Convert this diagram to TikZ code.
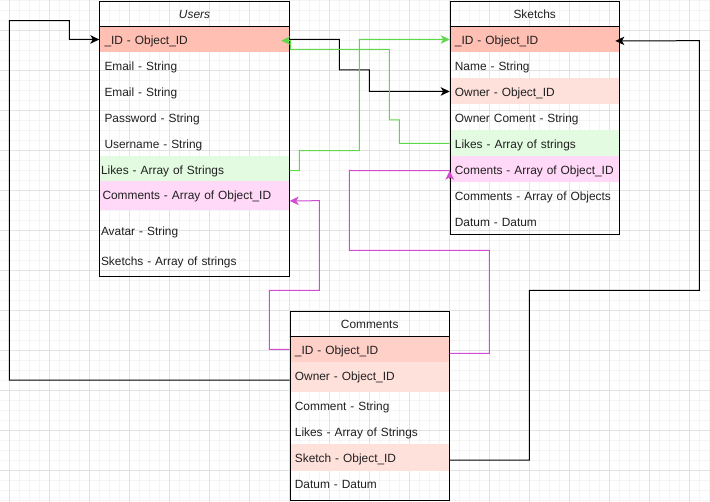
\documentclass[tikz,border=0pt]{standalone}
\usepackage{fontspec}
\setmainfont{Liberation Sans}
\usetikzlibrary{arrows.meta}
\definecolor{idc}{HTML}{FFBFB3}
\definecolor{idcb}{HTML}{FFD0C8}
\definecolor{ownc}{HTML}{FFE1DC}
\definecolor{likec}{HTML}{E3FCE1}
\definecolor{comc}{HTML}{FFD9F7}
\definecolor{gmaj}{HTML}{E2E2E2}
\definecolor{gmin}{HTML}{F4F4F4}
\definecolor{txt}{HTML}{202020}
\definecolor{grn}{HTML}{5FD94A}
\definecolor{mag}{HTML}{D24CD2}
\begin{document}
\begin{tikzpicture}[x=1pt,y=-1pt,
  every node/.style={font=\fontsize{11.9}{14}\selectfont, text=txt},
  row/.style={anchor=north west, rectangle, inner ysep=0pt, align=left, text height=11pt, text depth=1.4pt},
  hdr/.style={anchor=north west, rectangle, inner sep=0pt, align=center, text height=10.5pt, text depth=1.5pt},
  tbox/.style={anchor=north west, rectangle, draw=black, line width=1pt, inner sep=0pt},
  conn/.style={line width=1pt},
  arr/.style={-{Stealth[length=9pt,width=8.5pt,inset=2.5pt]}},
]
\useasboundingbox (0,0) rectangle (710,502);
\fill[white] (0,0) rectangle (710,502);
% grid
\begin{scope}[line width=1pt]
\foreach \i in {0,...,71} { \draw[gmin] ({-0.7+10*\i},0) -- ({-0.7+10*\i},502); }
\foreach \i in {0,...,50} { \draw[gmin] (0,{0.7+10*\i}) -- (710,{0.7+10*\i}); }
\foreach \i in {0,...,17} { \draw[gmaj] ({9.3+40*\i},0) -- ({9.3+40*\i},502); }
\foreach \i in {0,...,12} { \draw[gmaj] (0,{-9.3+40*\i}) -- (710,{-9.3+40*\i}); }
\end{scope}

% ---------- Users ----------
\node[hdr, minimum width=190pt, minimum height=25.6pt] (usersH) at (99.3,0.7) {\itshape Users};
\node[row, fill=idc, text width=180pt, inner xsep=5pt, minimum height=26pt] (uid) at (99.3,26.3) {\mbox{\_ID - Object\_ID}};
\node[row, text width=180pt, inner xsep=5pt, minimum height=26pt] (uem1) at (99.3,52.3) {\mbox{Email - String}};
\node[row, text width=180pt, inner xsep=5pt, minimum height=26pt] (uem2) at (99.3,78.3) {\mbox{Email - String}};
\node[row, text width=180pt, inner xsep=5pt, minimum height=26pt] (upw) at (99.3,104.3) {\mbox{Password - String}};
\node[row, text width=180pt, inner xsep=5pt, minimum height=26pt] (uun) at (99.3,130.3) {\mbox{Username - String}};
\node[row, fill=likec, text width=187pt, inner xsep=1.5pt, minimum height=24.5pt, text height=13.5pt] (ulk) at (99.3,156.3) {\mbox{Likes - Array of Strings}};
\node[row, fill=comc, text width=184pt, inner xsep=3pt, minimum height=29.2pt, text height=9pt, text depth=1.8pt] (ucm) at (99.3,180.8) {\mbox{Comments - Array of Object\_ID}};
\node[row, text width=187pt, inner xsep=1.5pt, minimum height=27.4pt] (uav) at (99.3,217) {\mbox{Avatar - String}};
\node[row, text width=187pt, inner xsep=1.5pt, minimum height=27.4pt] (usk) at (99.3,247) {\mbox{Sketchs - Array of strings}};
\node[tbox, minimum width=190pt, minimum height=275.6pt] (users) at (99.3,0.7) {};
\draw[line width=1pt] (uid.north west) -- (uid.north east);

% ---------- Sketchs ----------
\node[hdr, minimum width=169.6pt, minimum height=25.6pt] (sketchsH) at (449.7,0.7) {Sketchs};
\node[row, fill=idc, text width=159.6pt, inner xsep=5pt, minimum height=26pt] (sid) at (449.7,26.3) {\mbox{\_ID - Object\_ID}};
\node[row, text width=159.6pt, inner xsep=5pt, minimum height=26pt] (sname) at (449.7,52.3) {\mbox{Name - String}};
\node[row, fill=ownc, text width=159.6pt, inner xsep=5pt, minimum height=26pt] (sown) at (449.7,78.3) {\mbox{Owner - Object\_ID}};
\node[row, text width=159.6pt, inner xsep=5pt, minimum height=26pt] (soc) at (449.7,104.3) {\mbox{Owner Coment - String}};
\node[row, fill=likec, text width=159.6pt, inner xsep=5pt, minimum height=26pt] (slk) at (449.7,130.3) {\mbox{Likes - Array of strings}};
\node[row, fill=comc, text width=159.6pt, inner xsep=5pt, minimum height=26pt] (scm) at (449.7,156.3) {\mbox{Coments - Array of Object\_ID}};
\node[row, text width=159.6pt, inner xsep=5pt, minimum height=26pt] (scms) at (449.7,182.3) {\mbox{Comments - Array of Objects}};
\node[row, text width=159.6pt, inner xsep=5pt, minimum height=26pt] (sdat) at (449.7,208.3) {\mbox{Datum - Datum}};
\node[tbox, minimum width=169.6pt, minimum height=233.6pt] (sketchs) at (449.7,0.7) {};
\draw[line width=1pt] (sid.north west) -- (sid.north east);

% ---------- Comments ----------
\node[hdr, minimum width=159.6pt, minimum height=25.6pt] (commentsH) at (289.7,310.7) {Comments};
\node[row, fill=idcb, text width=149.6pt, inner xsep=5pt, minimum height=26pt] (cid) at (289.7,336.3) {\mbox{\_ID - Object\_ID}};
\node[row, fill=ownc, text width=149.6pt, inner xsep=5pt, minimum height=30pt, text height=8pt, text depth=2.6pt] (cown) at (289.7,362.3) {\mbox{Owner - Object\_ID}};
\node[row, text width=149.6pt, inner xsep=5pt, minimum height=26pt] (ccmt) at (289.7,392.3) {\mbox{Comment - String}};
\node[row, text width=149.6pt, inner xsep=5pt, minimum height=26pt] (clk) at (289.7,418.3) {\mbox{Likes - Array of Strings}};
\node[row, fill=ownc, text width=149.6pt, inner xsep=5pt, minimum height=26.4pt] (csk) at (289.7,444.3) {\mbox{Sketch - Object\_ID}};
\node[row, text width=149.6pt, inner xsep=5pt, minimum height=26pt] (cdat) at (289.7,470.7) {\mbox{Datum - Datum}};
\node[tbox, minimum width=159.6pt, minimum height=189.6pt] (comments) at (289.7,310.7) {};
\draw[line width=1pt] (cid.north west) -- (cid.north east);

% ---------- connectors ----------
\coordinate (uidIn) at ([xshift=-8.5pt,yshift=-1.2pt]uid.east);
\coordinate (sidIn) at ([xshift=-4.3pt,yshift=-1.4pt]sid.east);
\coordinate (scmIn) at ([yshift=-1.2pt]scm.west);
\coordinate (scmLow) at ([yshift=-9.5pt]scm.west);

% Comments.Owner -> Users._ID
\draw[conn, arr] ([yshift=-2.7pt]cown.west) -| (9.3,20.7) -| (69.3,39.3) -- (uid.west);
% Users._ID -> Sketchs.Owner
\draw[conn, arr] (uid.east) -| (339.3,70) -| (369.3,91.3) -- (sown.west);
% Users.Likes -> Sketchs._ID
\draw[conn, grn, arr] ([yshift=-1.8pt]ulk.east) -| (299.3,150.7) -| (359.3,39.3) -- (sid.west);
% Sketchs.Likes -> Users._ID
\draw[conn, grn, arr] (slk.west) -| (399.3,120) -| (389.3,49.3) -| (290.5,40.5) -- (uidIn);
% Comments._ID -> Sketchs.Coments
\draw[conn, mag] ([yshift=-4pt]cid.east) -| (489.3,250.3) -| (349.3,170.5) -- (scmIn);
\draw[conn, mag, arr] (scmLow) -- (scmIn);
% Comments._ID -> Users.Comments
\draw[conn, mag, arr] (cid.west) -| (269.3,290.3) -| (319.3,200.7) -- ([yshift=-5.3pt]ucm.east);
% Comments.Sketch -> Sketchs._ID
\draw[conn, arr] ([yshift=-2.5pt]csk.east) -| (529.3,290.3) -| (699.3,40.7) -- (sidIn);
\end{tikzpicture}
\end{document}
